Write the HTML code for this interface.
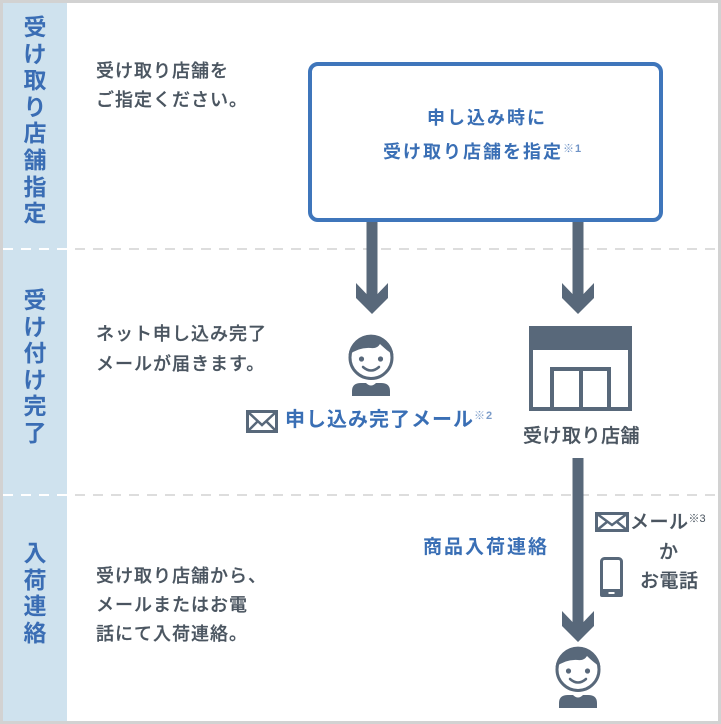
<!DOCTYPE html>
<html><head><meta charset="utf-8">
<style>
html,body{margin:0;padding:0;}
body{width:721px;height:724px;position:relative;overflow:hidden;background:#fff;font-family:"Liberation Sans","Noto Sans CJK JP",sans-serif;}
.frame{position:absolute;left:0;top:0;width:721px;height:724px;box-sizing:border-box;border:3px solid #d2d2d2;}
.col{position:absolute;left:3px;top:3px;width:64px;height:718px;background:#cfe2ee;}
.t{position:absolute;white-space:nowrap;}
.v{position:absolute;left:3px;width:64px;text-align:center;color:#3a6db4;font-weight:bold;font-size:23px;line-height:26.6px;}
.d{color:#4a5560;font-size:18px;letter-spacing:1px;font-weight:500;-webkit-text-stroke:0.25px #4a5560;}
.b{color:#3a6fb5;font-weight:bold;}
.sup{font-size:11px;letter-spacing:1px;-webkit-text-stroke:0;}
</style></head>
<body>
<div class="col"></div>
<svg style="position:absolute;left:0;top:0" width="721" height="724" viewBox="0 0 721 724">
  <line x1="3" y1="249" x2="718" y2="249" stroke="#dddddd" stroke-width="2" stroke-dasharray="10 8"/>
  <line x1="3" y1="249" x2="67" y2="249" stroke="#ffffff" stroke-width="2" stroke-dasharray="10 8"/>
  <line x1="3" y1="495" x2="718" y2="495" stroke="#dddddd" stroke-width="2" stroke-dasharray="10 8"/>
  <line x1="3" y1="495" x2="67" y2="495" stroke="#ffffff" stroke-width="2" stroke-dasharray="10 8"/>

  <g fill="#58687a">
    <polygon points="366.5,221 377.5,221 377.5,294 388,283 388,298 372,314 356,298 356,283 366.5,294"/>
    <polygon points="572.5,221 583.5,221 583.5,294 594,283 594,298 578,314 562,298 562,283 572.5,294"/>
    <polygon points="572.5,458 583.5,458 583.5,622 594,611 594,626 578,642 562,626 562,611 572.5,622"/>
  </g>

  <rect x="310" y="64" width="351" height="156" rx="8" ry="8" fill="#fff" stroke="#3f76bb" stroke-width="4"/>

  <g transform="translate(371,335)" fill="#58687a" stroke="none">
    <circle cx="0" cy="22.5" r="21" fill="#fff" stroke="#58687a" stroke-width="3"/>
    <path d="M -22.4 20 A 22.5 22.5 0 0 1 22.4 20 Q 15 15 9 9 Q 6 14 0 13 Q -12 12 -22.4 20 Z"/>
    <circle cx="-9.5" cy="24" r="2.6"/>
    <circle cx="9.5" cy="24" r="2.6"/>
    <path d="M -8 32 Q 0 39 8 32" fill="none" stroke="#58687a" stroke-width="2.5" stroke-linecap="round"/>
    <path d="M -19 61 L -19 56 Q -19 48 -10 48 L -5 48 Q 0 53 5 48 L 10 48 Q 19 48 19 56 L 19 61 Z"/>
  </g>
  <g transform="translate(578,647)" fill="#58687a" stroke="none">
    <circle cx="0" cy="22.5" r="21" fill="#fff" stroke="#58687a" stroke-width="3"/>
    <path d="M -22.4 20 A 22.5 22.5 0 0 1 22.4 20 Q 15 15 9 9 Q 6 14 0 13 Q -12 12 -22.4 20 Z"/>
    <circle cx="-9.5" cy="24" r="2.6"/>
    <circle cx="9.5" cy="24" r="2.6"/>
    <path d="M -8 32 Q 0 39 8 32" fill="none" stroke="#58687a" stroke-width="2.5" stroke-linecap="round"/>
    <path d="M -19 61 L -19 56 Q -19 48 -10 48 L -5 48 Q 0 53 5 48 L 10 48 Q 19 48 19 56 L 19 61 Z"/>
  </g>

  <g fill="#58687a">
    <rect x="529" y="326" width="103" height="24" rx="4" ry="4"/>
    <rect x="529" y="340" width="103" height="10"/>
    <rect x="529" y="326" width="4" height="85"/>
    <rect x="628" y="326" width="4" height="85"/>
    <rect x="529" y="407" width="103" height="4"/>
    <rect x="550" y="367" width="4" height="44"/>
    <rect x="607" y="367" width="4" height="44"/>
    <rect x="550" y="367" width="61" height="4"/>
    <rect x="579" y="367" width="4" height="44"/>
  </g>

  <g fill="none" stroke="#58687a">
    <rect x="247.5" y="411.5" width="29" height="20" stroke-width="3"/>
    <polyline points="247.5,411.5 262,425 276.5,411.5" stroke-width="2.5"/>
    <line x1="247.5" y1="431.5" x2="258" y2="421" stroke-width="2.5"/>
    <line x1="276.5" y1="431.5" x2="266" y2="421" stroke-width="2.5"/>
  </g>
  <g fill="none" stroke="#58687a">
    <rect x="596.5" y="513.5" width="31" height="17" stroke-width="3"/>
    <polyline points="596.5,513.5 612,525 627.5,513.5" stroke-width="2.5"/>
    <line x1="596.5" y1="530.5" x2="607.5" y2="521.5" stroke-width="2.5"/>
    <line x1="627.5" y1="530.5" x2="616.5" y2="521.5" stroke-width="2.5"/>
  </g>
  <g>
    <rect x="601.5" y="558.5" width="20" height="37" rx="3" ry="3" fill="none" stroke="#58687a" stroke-width="3"/>
    <rect x="600" y="589" width="23" height="8" rx="2" fill="#58687a"/>
    <rect x="608.5" y="592" width="6" height="2" fill="#fff"/>
  </g>
</svg>

<div class="v" style="top:14px;">受<br>け<br>取<br>り<br>店<br>舗<br>指<br>定</div>
<div class="v" style="top:287px;">受<br>け<br>付<br>け<br>完<br>了</div>
<div class="v" style="top:540px;">入<br>荷<br>連<br>絡</div>

<div class="t d" style="left:96px;top:57px;line-height:28.5px;">受け取り店舗を<br>ご指定ください。</div>
<div class="t d" style="left:96px;top:319px;line-height:30px;">ネット申し込み完了<br>メールが届きます。</div>
<div class="t d" style="left:96px;top:562px;line-height:29px;">受け取り店舗から、<br>メールまたはお電<br>話にて入荷連絡。</div>

<div class="t b" style="left:427px;top:106px;font-size:18px;line-height:24px;letter-spacing:2px;">申し込み時に</div>
<div class="t b" style="left:383px;top:140px;font-size:18px;line-height:24px;letter-spacing:2px;">受け取り店舗を指定<span class="sup" style="position:relative;top:-6px;color:#6f93c6;">※1</span></div>

<div class="t b" style="left:285px;top:408px;font-size:20px;line-height:24px;letter-spacing:1px;">申し込み完了メール<span class="sup" style="position:relative;top:-7px;color:#7b9cc9;font-weight:bold;">※2</span></div>

<div class="t d" style="left:523px;top:425px;font-size:19px;line-height:24px;letter-spacing:0.5px;">受け取り店舗</div>

<div class="t b" style="left:423px;top:536px;font-size:19px;line-height:24px;letter-spacing:2px;">商品入荷連絡</div>

<div class="t d" style="left:630px;top:511px;font-size:19px;line-height:24px;letter-spacing:0.5px;">メール<span class="sup" style="position:relative;top:-6px;letter-spacing:0;">※3</span></div>
<div class="t d" style="left:659px;top:541px;font-size:19px;line-height:24px;letter-spacing:0;">か</div>
<div class="t d" style="left:640px;top:570px;font-size:19px;line-height:24px;letter-spacing:0.5px;">お電話</div>

<div class="frame"></div>
</body></html>
